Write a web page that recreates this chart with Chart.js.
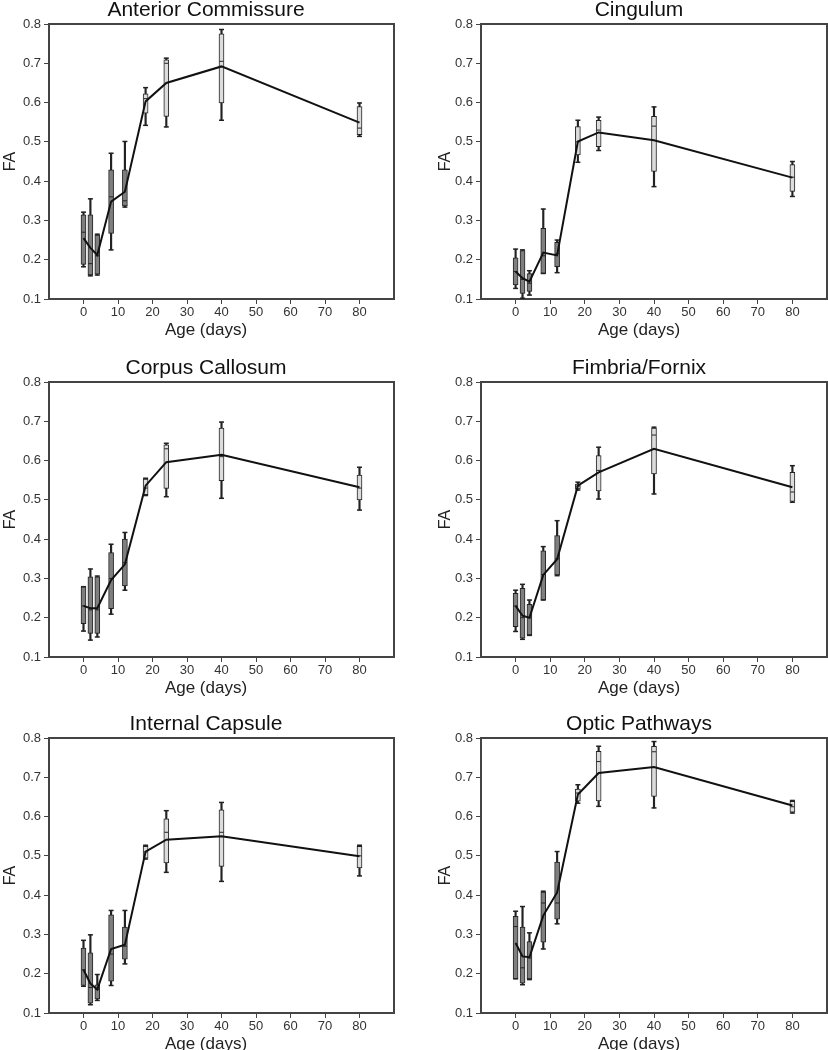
<!DOCTYPE html>
<html>
<head>
<meta charset="utf-8">
<script src="https://cdn.jsdelivr.net/npm/chart.js@4.4.0/dist/chart.umd.min.js"></script>
<style>
  html, body { margin: 0; padding: 0; background: #fff; overflow: hidden; width: 828px; height: 1050px; }
  canvas { position: absolute; }
</style>
</head>
<body>
<canvas id="p0"></canvas>
<canvas id="p1"></canvas>
<canvas id="p2"></canvas>
<canvas id="p3"></canvas>
<canvas id="p4"></canvas>
<canvas id="p5"></canvas>
<script>
// ages (days) at which FA was measured
const ages = [0, 2, 4, 8, 12, 18, 24, 40, 80];
const ageTicks = [0, 10, 20, 30, 40, 50, 60, 70, 80];
const faTicks = [0.1, 0.2, 0.3, 0.4, 0.5, 0.6, 0.7, 0.8];
const regions = ["Anterior Commissure", "Cingulum", "Corpus Callosum", "Fimbria/Fornix", "Internal Capsule", "Optic Pathways"];

// Anterior Commissure
const acLow  = [0.182, 0.159, 0.161, 0.225, 0.334, 0.542, 0.538, 0.555, 0.514];
const acQ1   = [0.188, 0.161, 0.163, 0.267, 0.337, 0.573, 0.565, 0.599, 0.518];
const acMed  = [0.27, 0.19, 0.21, 0.36, 0.35, 0.61, 0.70, 0.705, 0.535];
const acQ3   = [0.314, 0.314, 0.263, 0.429, 0.429, 0.622, 0.709, 0.775, 0.590];
const acHigh = [0.321, 0.355, 0.265, 0.471, 0.501, 0.638, 0.713, 0.786, 0.599];
const acMean = [0.255, 0.23, 0.212, 0.348, 0.373, 0.603, 0.65, 0.692, 0.549];

// Cingulum
const cgLow  = [0.127, 0.102, 0.110, 0.165, 0.167, 0.448, 0.478, 0.386, 0.361];
const cgQ1   = [0.136, 0.114, 0.119, 0.165, 0.182, 0.467, 0.488, 0.425, 0.374];
const cgMed  = [0.17, 0.15, 0.14, 0.21, 0.215, 0.50, 0.53, 0.54, 0.41];
const cgQ3   = [0.205, 0.223, 0.165, 0.280, 0.244, 0.539, 0.555, 0.565, 0.442];
const cgHigh = [0.227, 0.225, 0.172, 0.329, 0.250, 0.555, 0.563, 0.589, 0.450];
const cgMean = [0.170, 0.153, 0.144, 0.218, 0.211, 0.501, 0.524, 0.504, 0.409];

// Corpus Callosum
const ccLow  = [0.166, 0.143, 0.151, 0.209, 0.270, 0.511, 0.508, 0.504, 0.474];
const ccQ1   = [0.185, 0.160, 0.160, 0.223, 0.281, 0.513, 0.529, 0.549, 0.500];
const ccMed  = [0.23, 0.22, 0.22, 0.30, 0.34, 0.53, 0.63, 0.61, 0.53];
const ccQ3   = [0.279, 0.304, 0.304, 0.366, 0.400, 0.553, 0.640, 0.683, 0.563];
const ccHigh = [0.279, 0.324, 0.306, 0.387, 0.417, 0.555, 0.644, 0.698, 0.583];
const ccMean = [0.230, 0.224, 0.224, 0.296, 0.336, 0.536, 0.596, 0.615, 0.532];

// Fimbria/Fornix
const fxLow  = [0.165, 0.145, 0.155, 0.245, 0.307, 0.525, 0.502, 0.515, 0.494];
const fxQ1   = [0.177, 0.148, 0.156, 0.245, 0.309, 0.528, 0.523, 0.566, 0.496];
const fxMed  = [0.23, 0.20, 0.20, 0.31, 0.35, 0.535, 0.575, 0.665, 0.52];
const fxQ3   = [0.262, 0.275, 0.234, 0.370, 0.409, 0.540, 0.613, 0.683, 0.570];
const fxHigh = [0.270, 0.285, 0.245, 0.381, 0.447, 0.545, 0.634, 0.685, 0.587];
const fxMean = [0.230, 0.205, 0.200, 0.309, 0.349, 0.536, 0.570, 0.630, 0.532];

// Internal Capsule
const icLow  = [0.168, 0.121, 0.132, 0.170, 0.225, 0.492, 0.458, 0.435, 0.449];
const icQ1   = [0.170, 0.125, 0.136, 0.181, 0.237, 0.494, 0.482, 0.473, 0.469];
const icMed  = [0.21, 0.165, 0.16, 0.25, 0.27, 0.51, 0.56, 0.56, 0.50];
const icQ3   = [0.265, 0.253, 0.172, 0.350, 0.319, 0.524, 0.594, 0.617, 0.524];
const icHigh = [0.285, 0.299, 0.198, 0.361, 0.361, 0.527, 0.615, 0.636, 0.527];
const icMean = [0.210, 0.175, 0.160, 0.263, 0.274, 0.511, 0.541, 0.550, 0.499];

// Optic Pathways
const opLow  = [0.187, 0.172, 0.185, 0.263, 0.327, 0.634, 0.626, 0.622, 0.609];
const opQ1   = [0.187, 0.176, 0.187, 0.280, 0.339, 0.639, 0.640, 0.651, 0.611];
const opMed  = [0.32, 0.215, 0.24, 0.38, 0.38, 0.66, 0.74, 0.765, 0.625];
const opQ3   = [0.346, 0.319, 0.282, 0.408, 0.484, 0.670, 0.766, 0.779, 0.639];
const opHigh = [0.359, 0.371, 0.304, 0.410, 0.511, 0.681, 0.779, 0.791, 0.641];
const opMean = [0.278, 0.244, 0.242, 0.348, 0.407, 0.656, 0.711, 0.726, 0.628];

const series = [
  { low: acLow, q1: acQ1, med: acMed, q3: acQ3, high: acHigh, mean: acMean },
  { low: cgLow, q1: cgQ1, med: cgMed, q3: cgQ3, high: cgHigh, mean: cgMean },
  { low: ccLow, q1: ccQ1, med: ccMed, q3: ccQ3, high: ccHigh, mean: ccMean },
  { low: fxLow, q1: fxQ1, med: fxMed, q3: fxQ3, high: fxHigh, mean: fxMean },
  { low: icLow, q1: icQ1, med: icMed, q3: icQ3, high: icHigh, mean: icMean },
  { low: opLow, q1: opQ1, med: opMed, q3: opQ3, high: opHigh, mean: opMean },
];

// canvas placement: left, top, width, y axis width, right margin
const PANEL_H = 342;
const boxes = [
  { x: 0,   y: -2,  w: 412, yw: 49, rw: 18 },
  { x: 435, y: -2,  w: 408, yw: 46, rw: 16 },
  { x: 0,   y: 356, w: 412, yw: 49, rw: 18 },
  { x: 435, y: 356, w: 408, yw: 46, rw: 16 },
  { x: 0,   y: 712, w: 412, yw: 49, rw: 18 },
  { x: 435, y: 712, w: 408, yw: 46, rw: 16 },
];

Chart.defaults.font.family = "'Liberation Sans', Arial, sans-serif";
Chart.defaults.color = "#333";

const AXIS = "#444";
const INK = "#222";

function drawPanel(i) {
  const s = series[i];
  const box = boxes[i];
  const canvas = document.getElementById("p" + i);
  canvas.width = box.w;
  canvas.height = PANEL_H;
  canvas.style.left = box.x + "px";
  canvas.style.top = box.y + "px";

  const pts = (arr) => ages.map((a, k) => ({ x: a, y: arr[k] }));
  const span = (a, b) => ages.map((x, k) => ({ x: x, y: [a[k], b[k]] }));

  new Chart(canvas, {
    type: "bar",
    data: {
      datasets: [
        {
          type: "line",
          data: pts(s.mean),
          borderColor: "#111",
          borderWidth: 2,
          pointRadius: 0,
          order: 0,
        },
        {
          type: "scatter",
          data: pts(s.low).concat(pts(s.high)),
          pointStyle: "line",
          pointRadius: 2.5,
          pointBorderColor: INK,
          pointBorderWidth: 1.5,
          order: 1,
        },
        {
          type: "scatter",
          data: pts(s.med),
          pointStyle: "line",
          pointRadius: 2,
          pointBorderColor: INK,
          pointBorderWidth: 1,
          order: 1,
        },
        {
          data: span(s.q1, s.q3),
          barThickness: 5,
          backgroundColor: (c) => (ages[c.dataIndex] <= 12 ? "#7f7f7f" : "#dcdcdc"),
          borderColor: INK,
          borderWidth: 1,
          borderSkipped: false,
          grouped: false,
          order: 2,
        },
        {
          data: span(s.low, s.high),
          barThickness: 1.5,
          backgroundColor: INK,
          grouped: false,
          order: 3,
        },
      ],
    },
    options: {
      responsive: false,
      devicePixelRatio: 1,
      animation: false,
      events: [],
      plugins: {
        legend: { display: false },
        tooltip: { enabled: false },
        title: {
          display: true,
          text: regions[i],
          color: "#111",
          font: { size: 21, weight: "normal", lineHeight: "24px" },
          padding: { top: 0, bottom: 2 },
        },
        subtitle: {
          display: true,
          position: "bottom",
          text: "Age (days)",
          color: INK,
          font: { size: 17, lineHeight: "19px" },
          padding: 0,
        },
      },
      scales: {
        x: {
          type: "linear",
          min: -10,
          max: 90,
          offset: false,
          afterBuildTicks: (sc) => { sc.ticks = ageTicks.map((v) => ({ value: v })); },
          afterFit: (sc) => { sc.height = 22; },
          grid: { offset: false, drawOnChartArea: false, tickLength: 5, color: AXIS },
          border: { color: AXIS, width: 2 },
          ticks: { font: { size: 13 }, padding: 1, maxRotation: 0 },
        },
        y: {
          min: 0.1,
          max: 0.8,
          afterBuildTicks: (sc) => { sc.ticks = faTicks.map((v) => ({ value: v })); },
          afterFit: (sc) => { sc.width = box.yw; },
          grid: { drawOnChartArea: false, tickLength: 5, color: AXIS },
          border: { color: AXIS, width: 2 },
          ticks: { font: { size: 13 }, padding: 3, callback: (v) => Number(v).toFixed(1) },
          title: {
            display: true,
            text: "FA",
            color: INK,
            font: { size: 16 },
            padding: { top: 1, bottom: 0 },
          },
        },
        y2: {
          position: "right",
          afterFit: (sc) => { sc.width = box.rw; },
          ticks: { display: false },
          grid: { display: false },
          border: { color: AXIS, width: 2 },
        },
        x2: {
          type: "linear",
          position: "top",
          afterFit: (sc) => { sc.height = 0; },
          ticks: { display: false },
          grid: { display: false },
          border: { color: AXIS, width: 2 },
        },
      },
    },
  });
}

for (let i = 0; i < series.length; i++) drawPanel(i);
</script>
</body>
</html>
